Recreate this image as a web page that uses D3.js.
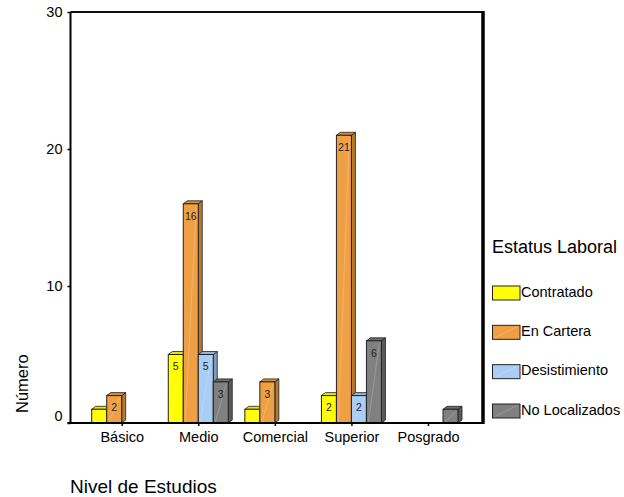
<!DOCTYPE html>
<html>
<head>
<meta charset="utf-8">
<script src="https://cdn.jsdelivr.net/npm/d3@7"></script>
<style>
  html, body { margin: 0; padding: 0; background: #fff; }
  svg { display: block; font-family: "Liberation Sans", Arial, sans-serif; }
</style>
</head>
<body>
<svg id="chart" width="624" height="497"></svg>
<script>
// Education level categories and employment status series
const categories = ["Básico", "Medio", "Comercial", "Superior", "Posgrado"];
const seriesNames = ["Contratado", "En Cartera", "Desistimiento", "No Localizados"];
const contratado = [1, 5, 1, 2, 0];
const enCartera = [2, 16, 3, 21, 0];
const desistimiento = [0, 5, 0, 2, 0];
const noLocalizados = [0, 3, 0, 6, 1];
const yTicks = [0, 10, 20, 30];
const seriesValues = [contratado, enCartera, desistimiento, noLocalizados];

const colors = ["#ffff00", "#f0a044", "#a9cdf3", "#808080"];
const sideColors = ["#c8c800", "#b9782f", "#7f9cbc", "#5a5a5a"];
const topColors = ["#e6e600", "#d88c38", "#93b5da", "#6c6c6c"];

const FONT = "Liberation Sans, Arial, sans-serif";
const svg = d3.select("#chart");

const plot = { left: 70.5, right: 483, top: 12, bottom: 423 };

const y = d3.scaleLinear().domain([0, 30]).range([plot.bottom, plot.top]);
const x = d3.scalePoint().domain(categories).range([121.7, 428]);
const xInner = d3.scaleBand().domain(seriesNames).range([-30, 30]);

const depthX = 4, depthY = 3;

// frame: top and right walls
svg.append("line")
  .attr("x1", plot.left).attr("x2", plot.right)
  .attr("y1", plot.top).attr("y2", plot.top)
  .attr("stroke", "#111").attr("stroke-width", 2);
svg.append("line")
  .attr("x1", plot.right).attr("x2", plot.right)
  .attr("y1", plot.top - 1).attr("y2", plot.bottom + 1)
  .attr("stroke", "#000").attr("stroke-width", 3.5);

// bars
const bars = [];
seriesNames.forEach((s, j) => {
  categories.forEach((c, i) => {
    const v = seriesValues[j][i];
    if (v > 0) bars.push({ s, j, c, v });
  });
});

const g = svg.append("g");
const bw = xInner.bandwidth();

bars.forEach(d => {
  const x0 = x(d.c) + xInner(d.s);
  const x1 = x0 + bw;
  const yt = y(d.v);
  const yb = y(0);
  const bg = g.append("g");
  // side face
  bg.append("path")
    .attr("d", `M${x1},${yb} L${x1 + depthX},${yb - depthY} L${x1 + depthX},${yt - depthY} L${x1},${yt} Z`)
    .attr("fill", sideColors[d.j]).attr("stroke", "#222").attr("stroke-width", 0.8);
  // top face
  bg.append("path")
    .attr("d", `M${x0},${yt} L${x0 + depthX},${yt - depthY} L${x1 + depthX},${yt - depthY} L${x1},${yt} Z`)
    .attr("fill", topColors[d.j]).attr("stroke", "#222").attr("stroke-width", 0.8);
  // front face
  bg.append("rect")
    .attr("x", x0).attr("y", yt)
    .attr("width", bw).attr("height", yb - yt)
    .attr("fill", colors[d.j]).attr("stroke", "#222").attr("stroke-width", 1);
  // faint sheen stroke across the face
  bg.append("line")
    .attr("x1", x0 + 2).attr("y1", yb - 1)
    .attr("x2", x1 - 2).attr("y2", yt + 2)
    .attr("stroke", "#fff").attr("stroke-opacity", 0.25).attr("stroke-width", 0.8);
  // value label
  if (d.v >= 2) {
    bg.append("text")
      .attr("x", x0 + bw / 2).attr("y", yt + 13)
      .attr("dominant-baseline", "middle")
      .attr("text-anchor", "middle")
      .attr("font-size", 10.5).attr("fill", "#222")
      .text(d.v);
  }
});

// y axis
const yAxis = svg.append("g")
  .attr("transform", `translate(${plot.left},0)`)
  .call(d3.axisLeft(y).tickValues(yTicks).tickSize(3).tickPadding(5).tickFormat(d3.format("d")));
yAxis.select(".domain").attr("stroke", "#000").attr("stroke-width", 2)
  .attr("d", `M0,${plot.top}V${plot.bottom}`);
yAxis.selectAll(".tick line").attr("stroke", "#000").attr("stroke-width", 1.5);
yAxis.selectAll(".tick text")
  .attr("font-size", 14.5).attr("fill", "#000")
  .attr("font-family", FONT)
  .attr("dy", d => d === 0 ? "-0.2em" : "0.32em");

// x axis
const xAxis = svg.append("g")
  .attr("transform", `translate(0,${plot.bottom})`)
  .call(d3.axisBottom(x).tickSize(3).tickPadding(6));
xAxis.select(".domain").attr("stroke", "#000").attr("stroke-width", 2)
  .attr("d", `M${plot.left - 3},0H${plot.right}`);
xAxis.selectAll(".tick line").attr("stroke", "#000").attr("stroke-width", 1.5);
xAxis.selectAll(".tick text")
  .attr("font-size", 14.5).attr("fill", "#000")
  .attr("font-family", FONT);

// axis titles
svg.append("text")
  .attr("x", 70).attr("y", 493)
  .attr("font-size", 19).attr("fill", "#000")
  .text("Nivel de Estudios");
svg.append("text")
  .attr("transform", "translate(28,413) rotate(-90)")
  .attr("font-size", 16.5).attr("fill", "#000")
  .text("Número");

// legend
const legend = svg.append("g");
legend.append("text")
  .attr("x", 492).attr("y", 253)
  .attr("font-size", 18).attr("fill", "#000")
  .text("Estatus Laboral");
const legendY = d3.scalePoint().domain(seriesNames).range([293, 411]);
seriesNames.forEach((s, j) => {
  const cy = legendY(s);
  legend.append("rect")
    .attr("x", 492.5).attr("y", cy - 7)
    .attr("width", 27.5).attr("height", 14)
    .attr("fill", colors[j]).attr("stroke", "#222").attr("stroke-width", 1);
  legend.append("line")
    .attr("x1", 494).attr("y1", cy + 6).attr("x2", 518).attr("y2", cy - 6)
    .attr("stroke", "#fff").attr("stroke-opacity", 0.25).attr("stroke-width", 0.8);
  legend.append("text")
    .attr("x", 521).attr("y", cy)
    .attr("dominant-baseline", "middle")
    .attr("font-size", 14.5).attr("fill", "#000")
    .text(s);
});
</script>
</body>
</html>
